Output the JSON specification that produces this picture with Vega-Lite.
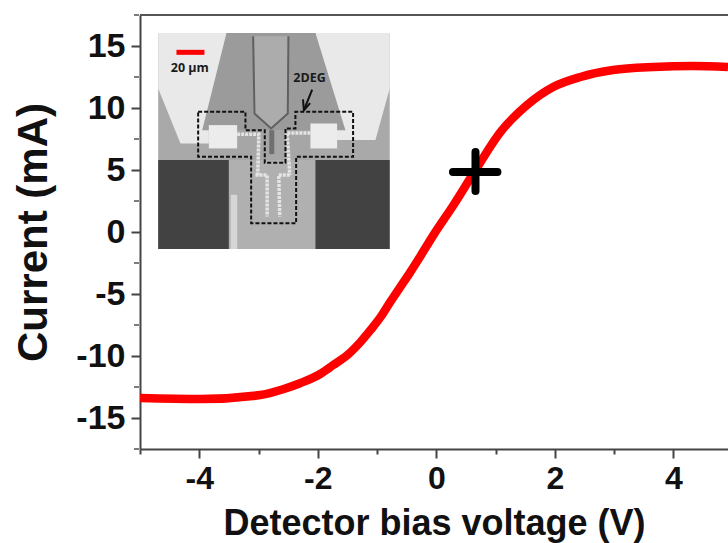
{
"$schema":"https://vega.github.io/schema/vega-lite/v6.json",
"width":588,"height":434,
"autosize":{"type":"none"},
"padding":{"left":140,"top":15,"right":0,"bottom":94},
"background":"white",
"config":{"view":{"stroke":null},"font":"Liberation Sans"},
"encoding":{
"x":{"type":"quantitative","scale":{"domain":[-5,4.92],"nice":false,"zero":false}},
"y":{"type":"quantitative","scale":{"domain":[-17.5,17.5],"nice":false,"zero":false}}
},
"layer":[
{"data":{"values":[{"part":"bg","x":-4.693,"x2":-0.787,"y":16.05,"y2":-1.37}]},
 "mark":{"type":"rect","color":"#a9a9a9"},
 "encoding":{"x":{"field":"x","type":"quantitative","title":"Detector bias voltage (V)",
   "axis":{"values":[-5,-4,-3,-2,-1,0,1,2,3,4],"labelExpr":"datum.value % 2 === 0 ? '' + datum.value : ''","labelOverlap":false,"grid":false,"domainColor":"#444444","domainWidth":2,"tickColor":"#444444","tickWidth":2,"tickSize":{"condition":{"test":"datum.value % 2 === 0","value":9},"value":5},"labelFont":"Liberation Sans","labelFontWeight":"bold","labelFontSize":32,"labelColor":"#111111","labelPadding":5,"labelFlush":false,"titleFont":"Liberation Sans","titleFontWeight":"bold","titleFontSize":36,"titleColor":"#111111","titlePadding":12}},
  "x2":{"field":"x2"},
  "y":{"field":"y","type":"quantitative","title":"Current (mA)",
   "axis":{"values":[-15,-10,-5,0,5,10,15],"labelExpr":"'' + datum.value","labelOverlap":false,"grid":false,"domainColor":"#444444","domainWidth":2,"tickColor":"#444444","tickWidth":2,"tickSize":9,"labelFont":"Liberation Sans","labelFontWeight":"bold","labelFontSize":34,"labelColor":"#111111","labelPadding":6,"labelFlush":false,"titleFont":"Liberation Sans","titleFontWeight":"bold","titleFontSize":42,"titleColor":"#111111","titlePadding":20}},
  "y2":{"field":"y2"}}},
{"data":{"values":[{"y":-17.5},{"y":-12.5},{"y":-7.5},{"y":-2.5},{"y":2.5},{"y":7.5},{"y":12.5},{"y":17.5}]},
 "mark":{"type":"tick","orient":"horizontal","size":5,"thickness":2,"color":"#444444","xOffset":-3.5,"clip":false},
 "encoding":{"x":{"datum":-5,"type":"quantitative"},"y":{"field":"y","type":"quantitative"}}},
{"data":{"values":[{"x":-4.693,"y":16.05,"y2":11.57,"s":"a"},{"x":-4.317,"y":16.05,"y2":7.14,"s":"a"},{"x":-3.541,"y":16.05,"y2":7.14,"s":"a"},{"x":-2.04,"y":16.05,"y2":7.41,"s":"b"},{"x":-1.028,"y":16.05,"y2":7.41,"s":"b"},{"x":-0.787,"y":16.05,"y2":11.57,"s":"b"}]},
 "mark":{"type":"area","color":"#e9e9e9","line":false},
 "encoding":{"x":{"field":"x","type":"quantitative"},"y":{"field":"y","type":"quantitative"},"y2":{"field":"y2"},"detail":{"field":"s"}}},
{"data":{"values":[{"x":-3.951,"y":8.21,"y2":8.21},{"x":-3.541,"y":16.05,"y2":8.21},{"x":-2.04,"y":16.05,"y2":8.21},{"x":-1.534,"y":8.21,"y2":8.21}]},
 "mark":{"type":"area","color":"#9b9b9b"},
 "encoding":{"x":{"field":"x","type":"quantitative"},"y":{"field":"y","type":"quantitative"},"y2":{"field":"y2"}}},
{"data":{"values":[{"x":-3.091,"y":15.78,"y2":9.55},{"x":-2.788,"y":15.78,"y2":8.35},{"x":-2.496,"y":15.78,"y2":9.55}]},
 "mark":{"type":"area","color":"#acacac"},
 "encoding":{"x":{"field":"x","type":"quantitative"},"y":{"field":"y","type":"quantitative"},"y2":{"field":"y2"}}},
{"data":{"values":[{"x":-3.839,"x2":-2.125,"y":8.21,"y2":5.8}]},
 "mark":{"type":"rect","color":"#a6a6a6"},
 "encoding":{"x":{"field":"x","type":"quantitative"},"x2":{"field":"x2"},"y":{"field":"y","type":"quantitative"},"y2":{"field":"y2"}}},
{"data":{"values":[{"x":-3.502,"x2":-2.04,"y":5.8,"y2":-1.37}]},
 "mark":{"type":"rect","color":"#b0b0b0"},
 "encoding":{"x":{"field":"x","type":"quantitative"},"x2":{"field":"x2"},"y":{"field":"y","type":"quantitative"},"y2":{"field":"y2"}}},
{"data":{"values":[{"x":-3.47,"x2":-3.36,"y":3.0,"y2":-1.37}]},
 "mark":{"type":"rect","color":"#d6d6d6"},
 "encoding":{"x":{"field":"x","type":"quantitative"},"x2":{"field":"x2"},"y":{"field":"y","type":"quantitative"},"y2":{"field":"y2"}}},
{"data":{"values":[{"x":-4.693,"x2":-3.502,"y":5.8,"y2":-1.37},{"x":-2.04,"x2":-0.787,"y":5.8,"y2":-1.37}]},
 "mark":{"type":"rect","color":"#424242"},
 "encoding":{"x":{"field":"x","type":"quantitative"},"x2":{"field":"x2"},"y":{"field":"y","type":"quantitative"},"y2":{"field":"y2"}}},
{"data":{"values":[{"x":-3.839,"x2":-3.361,"y":8.62,"y2":6.74},{"x":-2.125,"x2":-1.675,"y":8.75,"y2":6.74}]},
 "mark":{"type":"rect","color":"#ececec"},
 "encoding":{"x":{"field":"x","type":"quantitative"},"x2":{"field":"x2"},"y":{"field":"y","type":"quantitative"},"y2":{"field":"y2"}}},
{"data":{"values":[{"i":0,"x":-3.091,"y":15.78},{"i":1,"x":-3.069,"y":9.55},{"i":2,"x":-2.788,"y":8.35},{"i":3,"x":-2.507,"y":9.55},{"i":4,"x":-2.496,"y":15.78}]},
 "mark":{"type":"line","color":"#606060","strokeWidth":2},
 "encoding":{"x":{"field":"x","type":"quantitative"},"y":{"field":"y","type":"quantitative"},"order":{"field":"i"}}},
{"data":{"values":[{"x":-2.777,"y":8.21,"y2":6.28}]},
 "mark":{"type":"rule","color":"#707070","strokeWidth":5},
 "encoding":{"x":{"field":"x","type":"quantitative"},"y":{"field":"y","type":"quantitative"},"y2":{"field":"y2"}}},
{"data":{"values":[{"f":"a","i":0,"x":-3.361,"y":7.89},{"f":"a","i":1,"x":-2.996,"y":7.89},{"f":"a","i":2,"x":-3.013,"y":4.59},
{"f":"b","i":0,"x":-2.125,"y":7.99},{"f":"b","i":1,"x":-2.518,"y":7.99},{"f":"b","i":2,"x":-2.473,"y":4.59},
{"f":"c","i":0,"x":-3.052,"y":4.59},{"f":"c","i":1,"x":-2.855,"y":4.59},{"f":"c","i":2,"x":-2.855,"y":1.24},
{"f":"d","i":0,"x":-2.473,"y":4.59},{"f":"d","i":1,"x":-2.659,"y":4.59},{"f":"d","i":2,"x":-2.642,"y":1.24}]},
 "mark":{"type":"line","color":"#e4e4e4","strokeWidth":3.5,"strokeDash":[3,1]},
 "encoding":{"x":{"field":"x","type":"quantitative"},"y":{"field":"y","type":"quantitative"},"detail":{"field":"f"},"order":{"field":"i"}}},
{"data":{"values":[{"i":0,"x":-4.019,"y":9.69},{"i":1,"x":-3.221,"y":9.69},{"i":2,"x":-3.221,"y":8.21},{"i":3,"x":-2.895,"y":8.21},{"i":4,"x":-2.895,"y":5.58},{"i":5,"x":-2.546,"y":5.58},{"i":6,"x":-2.546,"y":8.35},{"i":7,"x":-2.378,"y":8.35},{"i":8,"x":-2.378,"y":9.69},{"i":9,"x":-1.405,"y":9.69},{"i":10,"x":-1.405,"y":6.07},{"i":11,"x":-2.366,"y":6.07},{"i":12,"x":-2.366,"y":0.7},{"i":13,"x":-3.125,"y":0.7},{"i":14,"x":-3.125,"y":6.07},{"i":15,"x":-4.019,"y":6.07},{"i":16,"x":-4.019,"y":9.69}]},
 "mark":{"type":"line","color":"#111111","strokeWidth":2,"strokeDash":[4,2]},
 "encoding":{"x":{"field":"x","type":"quantitative"},"y":{"field":"y","type":"quantitative"},"order":{"field":"i"}}},
{"data":{"values":[{"x":-4.385,"x2":-3.913,"y":14.49}]},
 "mark":{"type":"rule","color":"#ff0000","strokeWidth":5},
 "encoding":{"x":{"field":"x","type":"quantitative"},"x2":{"field":"x2"},"y":{"field":"y","type":"quantitative"}}},
{"data":{"values":[{"s":"shaft","i":0,"x":-2.095,"y":11.49},{"s":"shaft","i":1,"x":-2.235,"y":9.82},{"s":"head","i":0,"x":-2.25,"y":10.7},{"s":"head","i":1,"x":-2.235,"y":9.82},{"s":"head","i":2,"x":-2.13,"y":10.4}]},
 "mark":{"type":"line","color":"#111111","strokeWidth":2},
 "encoding":{"x":{"field":"x","type":"quantitative"},"y":{"field":"y","type":"quantitative"},"detail":{"field":"s"},"order":{"field":"i"}}},
{"data":{"values":[{"x":-4.16,"y":13.26,"t":"20 µm"},{"x":-2.14,"y":12.38,"t":"2DEG"}]},
 "mark":{"type":"text","font":"Open Sans","fontWeight":"bold","fontSize":12.5,"color":"#1a1a1a"},
 "encoding":{"x":{"field":"x","type":"quantitative"},"y":{"field":"y","type":"quantitative"},"text":{"field":"t"}}},
{"data":{"values":[{"x":-5,"y":-13.39},{"x":-3.98,"y":-13.47},{"x":-2.97,"y":-13.15},{"x":-2.6,"y":-12.7},{"x":-2.29,"y":-12.18},{"x":-1.96,"y":-11.45},{"x":-1.74,"y":-10.73},{"x":-1.5,"y":-9.92},{"x":-1.28,"y":-8.87},{"x":-1.11,"y":-7.9},{"x":-0.94,"y":-6.85},{"x":-0.78,"y":-5.65},{"x":-0.61,"y":-4.44},{"x":-0.44,"y":-3.23},{"x":-0.27,"y":-1.95},{"x":-0.05,"y":-0.25},{"x":0.29,"y":2.18},{"x":0.66,"y":5.0},{"x":1.08,"y":8.06},{"x":1.53,"y":10.24},{"x":1.97,"y":11.69},{"x":2.43,"y":12.5},{"x":2.98,"y":13.06},{"x":3.66,"y":13.31},{"x":4.33,"y":13.39},{"x":4.92,"y":13.31}]},
 "mark":{"type":"line","color":"#ff0000","strokeWidth":8.5,"interpolate":"monotone"},
 "encoding":{"x":{"field":"x","type":"quantitative"},"y":{"field":"y","type":"quantitative"}}},
{"data":{"values":[{"x":0.28,"x2":1.03,"y":4.84}]},
 "mark":{"type":"rule","color":"#000000","strokeWidth":8,"strokeCap":"round"},
 "encoding":{"x":{"field":"x","type":"quantitative"},"x2":{"field":"x2"},"y":{"field":"y","type":"quantitative"}}},
{"data":{"values":[{"x":0.66,"y":6.45,"y2":3.3}]},
 "mark":{"type":"rule","color":"#000000","strokeWidth":8,"strokeCap":"round"},
 "encoding":{"x":{"field":"x","type":"quantitative"},"y":{"field":"y","type":"quantitative"},"y2":{"field":"y2"}}},
{"data":{"values":[{"y":17.5}]},
 "mark":{"type":"rule","color":"#555555","strokeWidth":2},
 "encoding":{"y":{"field":"y","type":"quantitative"}}}
]
}
